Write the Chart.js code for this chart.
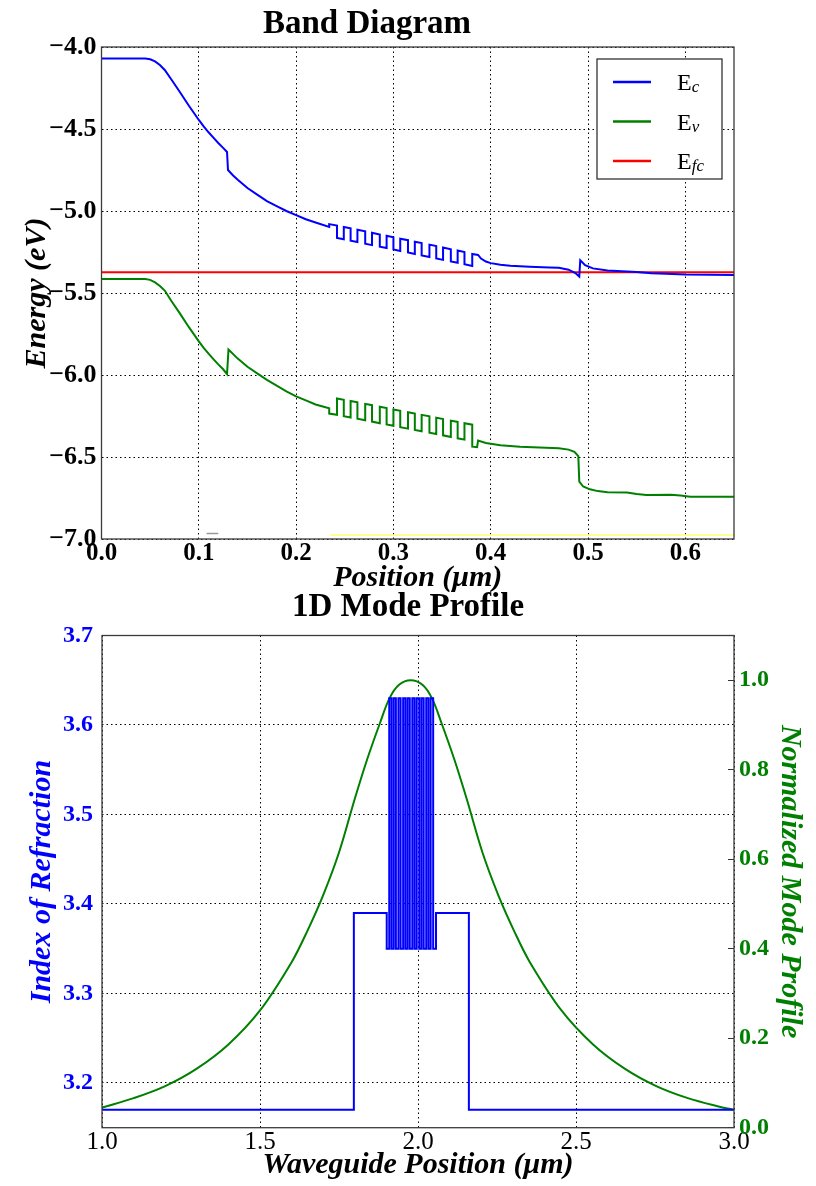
<!DOCTYPE html>
<html>
<head>
<meta charset="utf-8">
<script src="https://cdn.jsdelivr.net/npm/chart.js@4.4.1/dist/chart.umd.min.js"></script>
<style>
  html, body { margin: 0; padding: 0; background: #fff; }
  #wrap { position: relative; width: 816px; height: 1186px; }
  canvas { position: absolute; left: 0; }
  #band { top: 0; }
  #mode { top: 580px; }
</style>
</head>
<body>
<div id="wrap">
  <canvas id="band" width="816" height="600"></canvas>
  <canvas id="mode" width="816" height="606"></canvas>
</div>
<script>
// --- band diagram data (position in um, energy in eV) ---
const bandXTicks = [0, 0.1, 0.2, 0.3, 0.4, 0.5, 0.6];
const bandYTicks = [-7, -6.5, -6, -5.5, -5, -4.5, -4];

const ecData = [
  [0, -4.07], [0.045, -4.07], [0.05, -4.075], [0.055, -4.088], [0.06, -4.11], [0.065, -4.14],
  [0.072, -4.2], [0.08, -4.27], [0.09, -4.36], [0.1, -4.445], [0.105, -4.484], [0.11, -4.52],
  [0.115, -4.553], [0.12, -4.585], [0.125, -4.615], [0.129, -4.64], [0.13, -4.75],
  [0.135, -4.782], [0.14, -4.81], [0.15, -4.86], [0.16, -4.9], [0.17, -4.94], [0.18, -4.97],
  [0.19, -5.0], [0.2, -5.025], [0.21, -5.05], [0.22, -5.07], [0.234, -5.097],
  [0.234, -5.08], [0.242, -5.089], [0.242, -5.164], [0.249, -5.172], [0.249, -5.097],
  [0.256, -5.106], [0.256, -5.181], [0.263, -5.189], [0.263, -5.114],
  [0.271, -5.124], [0.271, -5.199], [0.278, -5.208], [0.278, -5.133],
  [0.286, -5.143], [0.286, -5.218], [0.293, -5.226], [0.293, -5.151],
  [0.3, -5.16], [0.3, -5.235], [0.307, -5.244], [0.307, -5.169],
  [0.315, -5.178], [0.315, -5.253], [0.322, -5.262], [0.322, -5.187],
  [0.329, -5.196], [0.329, -5.271], [0.337, -5.28], [0.337, -5.205],
  [0.344, -5.214], [0.344, -5.289], [0.351, -5.298], [0.351, -5.223],
  [0.359, -5.233], [0.359, -5.308], [0.366, -5.316], [0.366, -5.241],
  [0.373, -5.25], [0.373, -5.325], [0.381, -5.335], [0.381, -5.262],
  [0.387, -5.268], [0.39, -5.29], [0.395, -5.308], [0.4, -5.318], [0.41, -5.328],
  [0.42, -5.334], [0.44, -5.34], [0.46, -5.344], [0.47, -5.346], [0.48, -5.358],
  [0.487, -5.378], [0.491, -5.4], [0.492, -5.3], [0.497, -5.33], [0.505, -5.35],
  [0.52, -5.363], [0.535, -5.368], [0.55, -5.372], [0.565, -5.38], [0.58, -5.383],
  [0.6, -5.387], [0.65, -5.39]
];

const evData = [
  [0, -5.415], [0.045, -5.415], [0.05, -5.42], [0.055, -5.435], [0.06, -5.457], [0.065, -5.485],
  [0.072, -5.55], [0.08, -5.62], [0.09, -5.71], [0.1, -5.795], [0.105, -5.835], [0.11, -5.87],
  [0.115, -5.903], [0.12, -5.935], [0.125, -5.965], [0.129, -5.995], [0.1305, -5.845],
  [0.14, -5.9], [0.15, -5.95], [0.16, -5.99], [0.17, -6.03], [0.18, -6.065], [0.19, -6.1],
  [0.2, -6.13], [0.21, -6.155], [0.22, -6.18], [0.234, -6.203],
  [0.234, -6.235], [0.242, -6.243], [0.242, -6.143], [0.249, -6.151], [0.249, -6.251],
  [0.256, -6.259], [0.256, -6.159], [0.263, -6.167], [0.263, -6.267],
  [0.271, -6.276], [0.271, -6.176], [0.278, -6.184], [0.278, -6.284],
  [0.286, -6.294], [0.286, -6.194], [0.293, -6.202], [0.293, -6.302],
  [0.3, -6.31], [0.3, -6.21], [0.307, -6.218], [0.307, -6.318],
  [0.315, -6.327], [0.315, -6.227], [0.322, -6.235], [0.322, -6.335],
  [0.329, -6.343], [0.329, -6.243], [0.337, -6.252], [0.337, -6.352],
  [0.344, -6.36], [0.344, -6.26], [0.351, -6.268], [0.351, -6.368],
  [0.359, -6.378], [0.359, -6.278], [0.366, -6.286], [0.366, -6.386],
  [0.373, -6.394], [0.373, -6.294], [0.381, -6.303], [0.381, -6.437],
  [0.386, -6.44], [0.387, -6.4], [0.395, -6.415], [0.41, -6.428], [0.43, -6.437],
  [0.45, -6.442], [0.47, -6.447], [0.48, -6.455], [0.486, -6.468], [0.49, -6.495],
  [0.491, -6.65], [0.495, -6.68], [0.502, -6.697], [0.51, -6.708], [0.52, -6.715],
  [0.54, -6.716], [0.55, -6.725], [0.56, -6.732], [0.585, -6.73], [0.595, -6.735],
  [0.605, -6.742], [0.65, -6.742]
];

const efcData = [[0, -5.374], [0.65, -5.374]];
const yellowTrace = [[0.235, -6.975], [0.65, -6.975]];
const greyTrace = [[0.108, -6.966], [0.12, -6.966]];

// --- mode profile data (position in um) ---
const modeXTicks = [1, 1.5, 2, 2.5, 3];
const indexTicks = [3.2, 3.3, 3.4, 3.5, 3.6, 3.7];
const profileTicks = [0, 0.2, 0.4, 0.6, 0.8, 1.0];

const indexData = [
  [1.0, 3.17], [1.797, 3.17], [1.797, 3.39], [1.901, 3.39], [1.901, 3.35],
  [1.909, 3.35], [1.909, 3.63], [1.916, 3.63], [1.916, 3.35],
  [1.923, 3.35], [1.923, 3.63], [1.93, 3.63], [1.93, 3.35],
  [1.938, 3.35], [1.938, 3.63], [1.945, 3.63], [1.945, 3.35],
  [1.953, 3.35], [1.953, 3.63], [1.96, 3.63], [1.96, 3.35],
  [1.967, 3.35], [1.967, 3.63], [1.974, 3.63], [1.974, 3.35],
  [1.982, 3.35], [1.982, 3.63], [1.989, 3.63], [1.989, 3.35],
  [1.996, 3.35], [1.996, 3.63], [2.004, 3.63], [2.004, 3.35],
  [2.011, 3.35], [2.011, 3.63], [2.018, 3.63], [2.018, 3.35],
  [2.026, 3.35], [2.026, 3.63], [2.033, 3.63], [2.033, 3.35],
  [2.04, 3.35], [2.04, 3.63], [2.048, 3.63], [2.048, 3.35],
  [2.057, 3.35], [2.057, 3.39], [2.161, 3.39], [2.161, 3.17], [3.0, 3.17]
];

const profileData = [
  [1.0, 0.045], [1.1, 0.066], [1.2, 0.093], [1.3, 0.132], [1.4, 0.186], [1.5, 0.262],
  [1.6, 0.37], [1.65, 0.44], [1.7, 0.52], [1.75, 0.615], [1.8, 0.735], [1.84, 0.825],
  [1.88, 0.905], [1.91, 0.96], [1.94, 0.99], [1.977, 1.0], [2.014, 0.99], [2.044, 0.96],
  [2.074, 0.905], [2.114, 0.825], [2.154, 0.735], [2.204, 0.615], [2.254, 0.52],
  [2.304, 0.44], [2.354, 0.37], [2.454, 0.262], [2.554, 0.186], [2.654, 0.132],
  [2.754, 0.093], [2.854, 0.066], [2.954, 0.047], [3.0, 0.04]
];

const BLUE = "#0000ff";
const GREEN = "#008000";
const RED = "#ff0000";
const serif = "'Liberation Serif', 'Times New Roman', serif";

const fmt = (v) => v.toFixed(1).replace("-", "\u2212");
const toXY = (pts) => pts.map((p) => ({ x: p[0], y: p[1] }));
const lineSet = (label, pts, color, width, axis) => ({
  label,
  data: toXY(pts),
  borderColor: color,
  backgroundColor: color,
  borderWidth: width,
  pointRadius: 0,
  tension: 0,
  fill: false,
  yAxisID: axis || "y",
});
const fixTicks = (list) => (s) => {
  s.ticks = list.map((v) => ({ value: v }));
};

// box round the plot area
const framePlugin = {
  id: "frame",
  afterDatasetsDraw(chart) {
    const { ctx, chartArea: a } = chart;
    ctx.save();
    ctx.strokeStyle = "#3a3a3a";
    ctx.lineWidth = 1.3;
    ctx.strokeRect(a.left, a.top, a.right - a.left, a.bottom - a.top);
    ctx.restore();
  },
};

// legend with subscripts, chart.js legend can't do those
const legendItems = [
  { main: "E", sub: "c", color: BLUE },
  { main: "E", sub: "v", color: GREEN },
  { main: "E", sub: "fc", color: RED },
];
const bandLegend = {
  id: "bandLegend",
  afterDraw(chart) {
    const { ctx, chartArea: a } = chart;
    const w = 125, h = 120;
    const x0 = a.right - 12 - w;
    const y0 = a.top + 12;
    ctx.save();
    ctx.fillStyle = "#fff";
    ctx.fillRect(x0, y0, w, h);
    ctx.strokeStyle = "#333";
    ctx.lineWidth = 1.3;
    ctx.strokeRect(x0, y0, w, h);
    legendItems.forEach((it, i) => {
      const cy = y0 + 23 + i * 39.5;
      ctx.strokeStyle = it.color;
      ctx.lineWidth = 2.5;
      ctx.beginPath();
      ctx.moveTo(x0 + 16, cy);
      ctx.lineTo(x0 + 54, cy);
      ctx.stroke();
      ctx.fillStyle = "#000";
      ctx.textBaseline = "alphabetic";
      ctx.textAlign = "left";
      ctx.font = "24px " + serif;
      ctx.fillText(it.main, x0 + 80, cy + 8);
      const ew = ctx.measureText(it.main).width;
      ctx.font = "italic 17px " + serif;
      ctx.fillText(it.sub, x0 + 80 + ew, cy + 10);
    });
    ctx.restore();
  },
};

const gridOpts = { color: "#000", lineWidth: 1, drawTicks: false };
const dotted = { display: false, dash: [1.5, 3] };
const xTickFont = { family: serif, size: 25, weight: "bold", lineHeight: 1 };
const yTickFont = { family: serif, size: 26, weight: "bold", lineHeight: 1 };
const axisTitleFont = { family: serif, size: 30, weight: "bold", style: "italic", lineHeight: 1 };

new Chart(document.getElementById("band"), {
  type: "line",
  data: {
    datasets: [
      lineSet("yellow", yellowTrace, "#ffff70", 1.5),
      lineSet("grey", greyTrace, "#999999", 1.5),
      lineSet("Ec", ecData, BLUE, 2),
      lineSet("Ev", evData, GREEN, 2),
      lineSet("Efc", efcData, RED, 2),
    ],
  },
  options: {
    responsive: false,
    animation: false,
    layout: { padding: { left: 0, right: 82, top: 0, bottom: 7 } },
    plugins: {
      legend: { display: false },
      tooltip: { enabled: false },
      title: {
        display: true,
        text: "Band Diagram",
        color: "#000",
        font: { family: serif, size: 33, weight: "bold", lineHeight: 1.2 },
        padding: { top: 5, bottom: 2.4 },
      },
    },
    scales: {
      x: {
        type: "linear",
        min: 0,
        max: 0.65,
        afterBuildTicks: fixTicks(bandXTicks),
        afterFit: (s) => { s.height = 54; },
        grid: gridOpts,
        border: dotted,
        ticks: { color: "#000", padding: 2, font: xTickFont, maxRotation: 0, callback: fmt },
        title: { display: true, text: "Position (\u03bcm)", color: "#000", font: axisTitleFont, padding: { bottom: 0 } },
      },
      y: {
        min: -7,
        max: -4,
        afterBuildTicks: fixTicks(bandYTicks),
        afterFit: (s) => { s.width = 101.5; },
        grid: gridOpts,
        border: dotted,
        ticks: { color: "#000", padding: 5, font: yTickFont, callback: fmt },
        title: { display: true, text: "Energy (eV)", color: "#000", font: axisTitleFont, padding: { top: 22 } },
      },
    },
  },
  plugins: [framePlugin, bandLegend],
});

new Chart(document.getElementById("mode"), {
  type: "line",
  data: {
    datasets: [
      lineSet("Index", indexData, BLUE, 2, "y"),
      Object.assign(lineSet("Mode", profileData, GREEN, 2, "y2"), { tension: 0.35 }),
    ],
  },
  options: {
    responsive: false,
    animation: false,
    layout: { padding: { left: 0, right: 0, top: 0, bottom: 6 } },
    plugins: {
      legend: { display: false },
      tooltip: { enabled: false },
      title: {
        display: true,
        text: "1D Mode Profile",
        color: "#000",
        font: { family: serif, size: 33, weight: "bold", lineHeight: 1.2 },
        padding: { top: 7.2, bottom: 8.7 },
      },
    },
    scales: {
      x: {
        type: "linear",
        min: 1,
        max: 3,
        afterBuildTicks: fixTicks(modeXTicks),
        afterFit: (s) => { s.height = 52.3; },
        grid: gridOpts,
        border: dotted,
        ticks: { color: "#000", padding: 2, font: { family: serif, size: 25, lineHeight: 1 }, maxRotation: 0, callback: fmt },
        title: { display: true, text: "Waveguide Position (\u03bcm)", color: "#000", font: axisTitleFont, padding: { bottom: 0 } },
      },
      y: {
        position: "left",
        min: 3.15,
        max: 3.7,
        afterBuildTicks: fixTicks(indexTicks),
        afterFit: (s) => { s.width = 102; },
        grid: gridOpts,
        border: dotted,
        ticks: { color: BLUE, padding: 9, font: { family: serif, size: 24, weight: "bold", lineHeight: 1 }, callback: fmt },
        title: { display: true, text: "Index of Refraction", color: BLUE, font: axisTitleFont, padding: { top: 27 } },
      },
      y2: {
        position: "right",
        min: 0,
        max: 1.1,
        afterBuildTicks: fixTicks(profileTicks),
        afterFit: (s) => { s.width = 82; },
        grid: { drawOnChartArea: false, drawTicks: true, tickLength: -6, color: "#333", lineWidth: 1 },
        border: { display: false },
        ticks: { color: GREEN, padding: 11, font: { family: serif, size: 24, weight: "bold", lineHeight: 1 }, callback: fmt },
        title: { display: true, text: "Normalized Mode Profile", color: GREEN, font: axisTitleFont, padding: { top: 11 } },
      },
    },
  },
  plugins: [framePlugin],
});
</script>
